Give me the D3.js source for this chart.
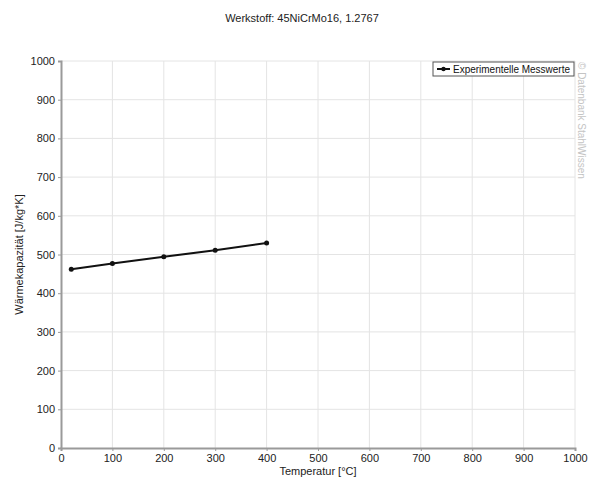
<!DOCTYPE html>
<html>
<head>
<meta charset="utf-8">
<script src="https://cdn.jsdelivr.net/npm/d3@7"></script>
<style>
  body { margin: 0; background: #fff; }
  text { font-family: "Liberation Sans", Arial, sans-serif; }
</style>
</head>
<body>
<div id="chart"></div>
<script>
// data
const temperatures = [20, 100, 200, 300, 400];
const heatCapacity = [462, 477, 494, 511, 530];
const xTicks = [0, 100, 200, 300, 400, 500, 600, 700, 800, 900, 1000];
const yTicks = [0, 100, 200, 300, 400, 500, 600, 700, 800, 900, 1000];
const seriesName = 'Experimentelle Messwerte';

const W = 605, H = 491;
const margin = { top: 61, right: 30, bottom: 43, left: 61 };
const width = W - margin.left - margin.right;
const height = H - margin.top - margin.bottom;

const root = d3.select('#chart')
    .append('svg')
    .attr('width', W)
    .attr('height', H);

const svg = root.append('g')
    .attr('transform', `translate(${margin.left}, ${margin.top})`);

const xScale = d3.scaleLinear().domain([0, 1000]).range([0, width]);
const yScale = d3.scaleLinear().domain([0, 1000]).range([height, 0]);

// grid
svg.append('g')
    .selectAll('line')
    .data(xTicks.slice(1))
    .join('line')
    .attr('x1', d => xScale(d)).attr('x2', d => xScale(d))
    .attr('y1', 0).attr('y2', height)
    .attr('stroke', '#e4e4e4');

svg.append('g')
    .selectAll('line')
    .data(yTicks.slice(1))
    .join('line')
    .attr('x1', 0).attr('x2', width)
    .attr('y1', d => yScale(d)).attr('y2', d => yScale(d))
    .attr('stroke', '#e4e4e4');

// axes
const fmt = d3.format('d');
const xAxis = svg.append('g')
    .attr('transform', `translate(0, ${height})`)
    .call(d3.axisBottom(xScale).tickValues(xTicks).tickFormat(fmt).tickSize(3).tickPadding(3));

const yAxis = svg.append('g')
    .call(d3.axisLeft(yScale).tickValues(yTicks).tickFormat(fmt).tickSize(3).tickPadding(3));

[xAxis, yAxis].forEach(a => {
    a.select('.domain').attr('stroke', '#9a9a9a').attr('stroke-width', 2);
    a.selectAll('.tick line').attr('stroke', '#9a9a9a');
    a.selectAll('.tick text')
        .attr('fill', '#222')
        .style('font-size', '11px')
        .style('font-family', '"Liberation Sans", Arial, sans-serif');
});

// axis labels
svg.append('text')
    .attr('x', xScale(500))
    .attr('y', height + 27)
    .attr('text-anchor', 'middle')
    .style('font-size', '11px')
    .attr('fill', '#222')
    .text('Temperatur [°C]');

svg.append('text')
    .attr('transform', `translate(-38, ${yScale(500)}) rotate(-90)`)
    .attr('text-anchor', 'middle')
    .style('font-size', '11px')
    .attr('fill', '#222')
    .text('Wärmekapazität [J/kg*K]');

// title
root.append('text')
    .attr('x', 302)
    .attr('y', 22)
    .attr('text-anchor', 'middle')
    .style('font-size', '11px')
    .attr('fill', '#222')
    .text('Werkstoff: 45NiCrMo16, 1.2767');

// watermark
root.append('text')
    .attr('transform', `translate(578, 62) rotate(90)`)
    .style('font-size', '10px')
    .attr('fill', '#c4c4c4')
    .text('© Datenbank StahlWissen');

// series
const points = temperatures.map((t, i) => ({ t, v: heatCapacity[i] }));

const line = d3.line()
    .x(d => xScale(d.t))
    .y(d => yScale(d.v));

svg.append('path')
    .datum(points)
    .attr('fill', 'none')
    .attr('stroke', '#111')
    .attr('stroke-width', 2)
    .attr('d', line);

svg.append('g')
    .selectAll('circle')
    .data(points)
    .join('circle')
    .attr('cx', d => xScale(d.t))
    .attr('cy', d => yScale(d.v))
    .attr('r', 2.5)
    .attr('fill', '#111');

// legend
const legend = svg.append('g')
    .attr('transform', `translate(${width - 142}, 1)`);

legend.append('rect')
    .attr('width', 141)
    .attr('height', 14)
    .attr('fill', '#fff')
    .attr('stroke', '#555');

legend.append('line')
    .attr('x1', 4).attr('x2', 17)
    .attr('y1', 7).attr('y2', 7)
    .attr('stroke', '#111').attr('stroke-width', 2);

legend.append('circle')
    .attr('cx', 10.5).attr('cy', 7).attr('r', 2.2)
    .attr('fill', '#111');

legend.append('text')
    .attr('x', 20)
    .attr('y', 11)
    .style('font-size', '10.5px')
    .attr('textLength', 117)
    .attr('lengthAdjust', 'spacingAndGlyphs')
    .attr('fill', '#111')
    .text(seriesName);
</script>
</body>
</html>
